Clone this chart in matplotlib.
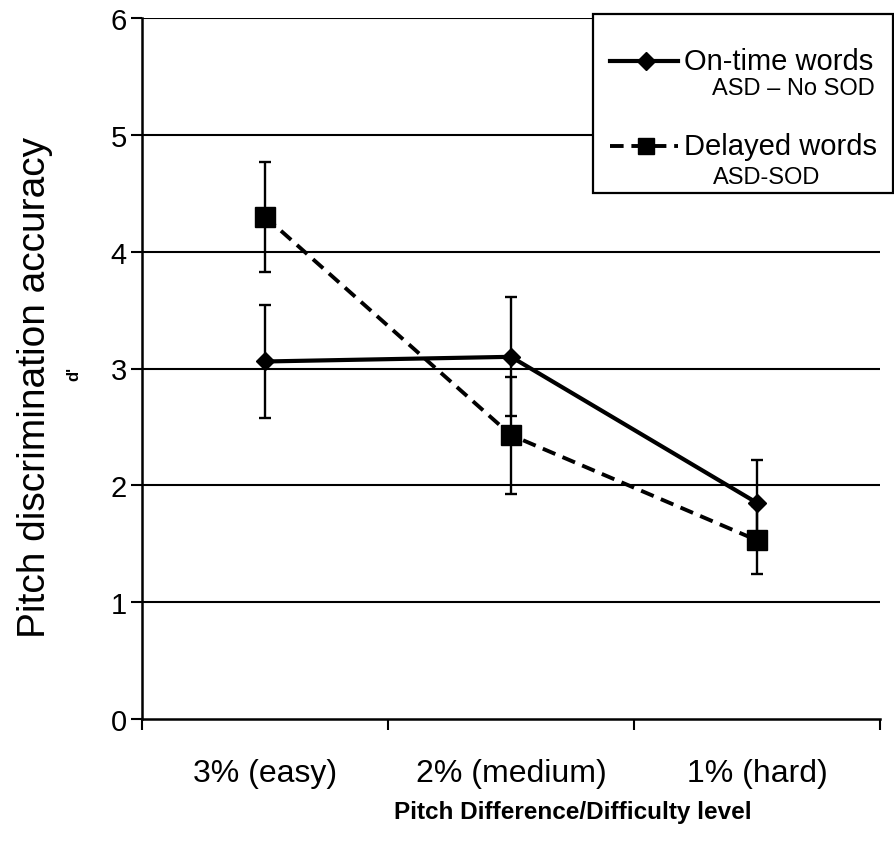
import numpy as np
import matplotlib
matplotlib.use("Agg")
import matplotlib.pyplot as plt
from matplotlib.lines import Line2D
from matplotlib.patches import Rectangle

# ------------------ DATOS ------------------

niveles = ["3% (easy)", "2% (medium)", "1% (hard)"]

ontime_media = [3.06, 3.10, 1.85]
ontime_error = [0.48, 0.51, 0.37]

delayed_media = [4.30, 2.43, 1.53]
delayed_error = [0.47, 0.50, 0.29]

y_ticks = [0, 1, 2, 3, 4, 5, 6]

FUENTE = ["Liberation Sans", "DejaVu Sans"]
plt.rcParams["font.family"] = FUENTE

GUIONES = (0, (3.5, 2.0))

# ------------------ FIGURA ------------------

fig = plt.figure(figsize=(8.95, 8.45), dpi=100)
ax = fig.add_axes([142 / 895, 125 / 845, (880 - 142) / 895, (720 - 19) / 845])

x = np.arange(1, len(niveles) + 1)

# lineas de rejilla horizontales
for yv in y_ticks[1:]:
    ax.axhline(yv, color="black", linewidth=1.5, zorder=1)

ax.errorbar(x, ontime_media, yerr=ontime_error, fmt="none", ecolor="black",
            elinewidth=1.7, capsize=4.5, capthick=1.7, zorder=2)
ax.errorbar(x, delayed_media, yerr=delayed_error, fmt="none", ecolor="black",
            elinewidth=1.7, capsize=4.5, capthick=1.7, zorder=2)

ax.plot(x, ontime_media, color="black", linewidth=3, linestyle="-",
        marker="D", markersize=9, zorder=3)
ax.plot(x, delayed_media, color="black", linewidth=2.8, linestyle=GUIONES,
        marker="s", markersize=15, zorder=3)

ax.set_xlim(0.5, 3.5)
ax.set_ylim(0, 6)

ax.set_yticks(y_ticks)
ax.set_yticklabels([str(v) for v in y_ticks], fontsize=21)
ax.tick_params(axis="y", direction="out", length=8, width=1.5, pad=3)

ax.set_xticks(x)
ax.set_xticklabels(niveles, fontsize=23)
ax.set_xticks([0.5, 1.5, 2.5, 3.5], minor=True)
ax.tick_params(axis="x", which="major", length=0, pad=28)
ax.tick_params(axis="x", which="minor", direction="out", length=8, width=1.5)

for lado in ("top", "right"):
    ax.spines[lado].set_visible(False)
for lado in ("left", "bottom"):
    ax.spines[lado].set_linewidth(1.8)

fig.text(0.039, 0.541, "Pitch discrimination accuracy", rotation=90,
         ha="center", va="center", fontsize=28)
fig.text(0.082, 0.558, "d'", rotation=90, ha="center", va="center",
         fontsize=12, fontweight="bold")

fig.text(0.640, 0.038, "Pitch Difference/Difficulty level", ha="center",
         va="center", fontsize=17.5, fontweight="bold")

# ------------------ LEYENDA ------------------

def px(xp, yp):
    return xp / 895, 1 - yp / 845

x0, y0 = px(593, 194)
x1, y1 = px(893, 15)
fig.patches.append(Rectangle((x0, y0), x1 - x0, y1 - y0, transform=fig.transFigure,
                             facecolor="white", edgecolor="black", linewidth=1.6,
                             zorder=5))

la, yl = px(610, 62)
lb, _ = px(678, 62)
lm, _ = px(646, 62)
fig.lines.append(Line2D([la, lb], [yl, yl], transform=fig.transFigure,
                        color="black", linewidth=3, zorder=6))
fig.lines.append(Line2D([lm], [yl], transform=fig.transFigure, color="black",
                        marker="D", markersize=9, zorder=7))

_, yd = px(0, 147)
fig.lines.append(Line2D([la, lb], [yd, yd], transform=fig.transFigure,
                        color="black", linewidth=2.8, linestyle=GUIONES,
                        zorder=6))
fig.lines.append(Line2D([lm], [yd], transform=fig.transFigure, color="black",
                        marker="s", markersize=11, zorder=7))

tx, _ = px(684, 0)
fig.text(tx, yl, "On-time words", ha="left", va="center", fontsize=21, zorder=8)
fig.text(*px(875, 89), "ASD \u2013 No SOD", ha="right", va="center",
         fontsize=17, zorder=8)
fig.text(tx, yd, "Delayed words", ha="left", va="center", fontsize=21, zorder=8)
fig.text(*px(767, 178), "ASD-SOD", ha="center", va="center",
         fontsize=17, zorder=8)

fig.savefig("out.png", dpi=100)
